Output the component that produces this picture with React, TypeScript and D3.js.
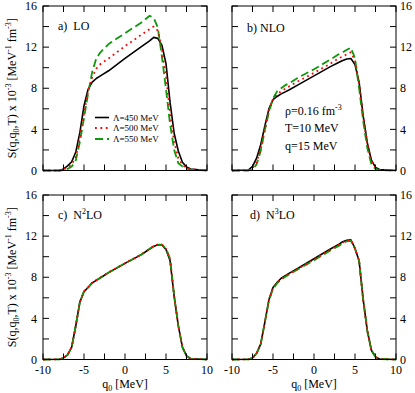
import React from "react";
import * as d3 from "d3";

// q0 grid [MeV]
const q0 = [-10, -8, -7.5, -7, -6.5, -6, -5.5, -5, -4.5, -4, -3.5, -3, -2, 0, 2, 3, 3.5, 4, 4.5, 5, 5.5, 6, 6.5, 7, 7.5, 8, 10];

// S(q,q0,T) x 10^-3 for each order and cutoff
const lo450 = [0, 0, 0.15, 0.45, 0.85, 1.8, 3.7, 6.3, 7.9, 8.6, 8.95, 9.2, 9.7, 10.9, 12.05, 12.6, 12.95, 12.85, 12.2, 10.4, 6.6, 3.6, 1.9, 0.8, 0.35, 0.15, 0];
const lo500 = [0, 0, 0.08, 0.3, 0.6, 1.3, 3.2, 5.6, 7.7, 9.1, 9.9, 10.35, 10.9, 12.1, 13.2, 13.75, 14.0, 13.6, 11.8, 9.2, 5.5, 2.8, 1.2, 0.55, 0.25, 0.1, 0];
const lo550 = [0, 0, 0.05, 0.15, 0.4, 1.0, 2.8, 5.1, 7.5, 9.6, 10.9, 11.5, 12.3, 13.35, 14.4, 15.05, 14.85, 13.9, 11.1, 7.9, 4.5, 2.0, 0.7, 0.4, 0.2, 0.08, 0];

const nlo450 = [0, 0.05, 0.4, 1.2, 2.5, 4.3, 6.0, 6.9, 7.2, 7.45, 7.65, 7.85, 8.3, 9.2, 10.1, 10.5, 10.7, 10.85, 10.9, 10.3, 8.6, 5.3, 2.7, 1.0, 0.3, 0.1, 0];
const nlo500 = [0, 0.02, 0.2, 0.8, 2.1, 4.0, 5.8, 6.95, 7.45, 7.7, 7.95, 8.2, 8.65, 9.5, 10.4, 10.9, 11.1, 11.3, 11.5, 10.7, 8.5, 5.2, 2.6, 0.9, 0.25, 0.05, 0];
const nlo550 = [0, 0, 0.1, 0.6, 1.9, 3.9, 5.7, 7.0, 7.7, 8.0, 8.3, 8.5, 9.0, 9.85, 10.8, 11.3, 11.5, 11.75, 11.95, 10.9, 8.0, 4.8, 2.2, 0.6, 0.15, 0.03, 0];

const n2lo450 = [0, 0.02, 0.15, 0.45, 1.2, 3.3, 5.6, 6.6, 7.0, 7.45, 7.7, 7.95, 8.45, 9.35, 10.2, 10.75, 11.0, 11.15, 11.15, 10.7, 9.6, 6.1, 3.3, 1.2, 0.35, 0.08, 0];
const n2lo500 = [0, 0.02, 0.15, 0.45, 1.2, 3.3, 5.6, 6.62, 7.02, 7.47, 7.72, 7.97, 8.47, 9.37, 10.22, 10.77, 11.02, 11.17, 11.17, 10.75, 9.7, 6.15, 3.3, 1.2, 0.35, 0.08, 0];
const n2lo550 = [0, 0.02, 0.15, 0.45, 1.2, 3.3, 5.6, 6.62, 7.02, 7.46, 7.71, 7.96, 8.46, 9.36, 10.21, 10.76, 11.02, 11.16, 11.16, 10.8, 9.8, 6.2, 3.3, 1.2, 0.35, 0.08, 0];

const n3lo450 = [0, 0.02, 0.15, 0.6, 1.5, 3.6, 5.8, 7.0, 7.5, 7.9, 8.15, 8.4, 8.85, 9.8, 10.75, 11.2, 11.45, 11.6, 11.65, 10.8, 9.6, 5.8, 2.8, 0.9, 0.25, 0.05, 0];
const n3lo500 = [0, 0.02, 0.15, 0.6, 1.5, 3.6, 5.75, 6.95, 7.45, 7.85, 8.1, 8.35, 8.8, 9.72, 10.68, 11.13, 11.38, 11.55, 11.6, 10.8, 9.6, 5.8, 2.8, 0.9, 0.25, 0.05, 0];
const n3lo550 = [0, 0.02, 0.15, 0.6, 1.5, 3.6, 5.7, 6.9, 7.4, 7.8, 8.05, 8.3, 8.75, 9.65, 10.6, 11.05, 11.3, 11.5, 11.55, 10.8, 9.6, 5.8, 2.8, 0.9, 0.25, 0.05, 0];

const xTicks = [-10, -7.5, -5, -2.5, 0, 2.5, 5, 7.5, 10];
const xLabels = [-10, -5, 0, 5, 10];
const yTicks = [0, 2, 4, 6, 8, 10, 12, 14, 16];
const yLabels = [0, 4, 8, 12, 16];
const legendNames = ["450", "500", "550"];

const FONT = "'Liberation Serif', 'Times New Roman', serif";

const styles = [
  { color: "#000000", dash: "none", width: 1.6 },
  { color: "#ff0000", dash: "1.8,3.6", width: 1.8 },
  { color: "#0a9a0a", dash: "8,4", width: 1.8 },
];

const panels = [
  { id: "a", label: "a)", order: "LO", sup: "", x0: 43, y0: 6, data: [lo450, lo500, lo550], left: true, bottom: false },
  { id: "b", label: "b)", order: "NLO", sup: "", x0: 232, y0: 6, data: [nlo450, nlo500, nlo550], left: false, bottom: false },
  { id: "c", label: "c)", order: "N", sup: "2", x0: 43, y0: 195, data: [n2lo450, n2lo500, n2lo550], left: true, bottom: true },
  { id: "d", label: "d)", order: "N", sup: "3", x0: 232, y0: 195, data: [n3lo450, n3lo500, n3lo550], left: false, bottom: true },
];

const W = 164;
const H = 164.5;
const TICK = 6;

function Panel({ p }: { p: (typeof panels)[number] }) {
  const x = d3.scaleLinear().domain([-10, 10]).range([p.x0, p.x0 + W]);
  const y = d3.scaleLinear().domain([0, 16]).range([p.y0 + H, p.y0]);
  const line = d3
    .line<number>()
    .x((_, i) => x(q0[i]))
    .y((d) => y(d));
  const drawOrder = [0, 2, 1];
  return (
    <g>
      {drawOrder.map((k) => (
        <path
          key={k}
          d={line(p.data[k]) || ""}
          fill="none"
          stroke={styles[k].color}
          strokeWidth={styles[k].width}
          strokeDasharray={styles[k].dash}
          strokeLinejoin="round"
        />
      ))}
      <rect x={p.x0} y={p.y0} width={W} height={H} fill="none" stroke="#000" strokeWidth={1} />
      {xTicks.map((t) => (
        <g key={"x" + t}>
          <line x1={x(t)} x2={x(t)} y1={p.y0 + H} y2={p.y0 + H - TICK} stroke="#000" />
          <line x1={x(t)} x2={x(t)} y1={p.y0} y2={p.y0 + TICK} stroke="#000" />
        </g>
      ))}
      {yTicks.map((t) => (
        <g key={"y" + t}>
          <line x1={p.x0} x2={p.x0 + TICK} y1={y(t)} y2={y(t)} stroke="#000" />
          <line x1={p.x0 + W} x2={p.x0 + W - TICK} y1={y(t)} y2={y(t)} stroke="#000" />
        </g>
      ))}
      {yLabels.map((t) => (
        <text
          key={"yl" + t}
          x={p.left ? p.x0 - 6 : p.x0 + W + 4}
          y={y(t)}
          dy="0.35em"
          textAnchor={p.left ? "end" : "start"}
          fontSize={12}
        >
          {t}
        </text>
      ))}
      {p.bottom &&
        xLabels.map((t) => (
          <text key={"xl" + t} x={x(t)} y={p.y0 + H + 14.5} textAnchor="middle" fontSize={12}>
            {t}
          </text>
        ))}
      {p.bottom && (
        <text x={x(0)} y={p.y0 + H + 28.5} textAnchor="middle" fontSize={12}>
          q<tspan fontSize={8} dy={3}>0</tspan>
          <tspan dy={-3}> [MeV]</tspan>
        </text>
      )}
      <text x={p.id === "b" ? p.x0 + 15 : p.id === "d" ? p.x0 + 18 : p.x0 + 15} y={p.id === "b" ? p.y0 + 26 : p.y0 + 24} fontSize={12}>
        {p.label}
        <tspan dx={p.id === "b" ? 3 : 6}>{p.order}</tspan>
        {p.sup && (
          <>
            <tspan fontSize={8} dy={-5}>{p.sup}</tspan>
            <tspan dy={5}>LO</tspan>
          </>
        )}
      </text>
      {p.left && (
        <text transform={`translate(16,${p.y0 + H / 2}) rotate(-90)`} textAnchor="middle" fontSize={12}>
          S(q,q<tspan fontSize={8} dy={3}>0</tspan>
          <tspan dy={-3}>,T) x 10</tspan>
          <tspan fontSize={8} dy={-5}>-3</tspan>
          <tspan dy={5}> [MeV</tspan>
          <tspan fontSize={8} dy={-5}>-1</tspan>
          <tspan dy={5}> fm</tspan>
          <tspan fontSize={8} dy={-5}>-3</tspan>
          <tspan dy={5}>]</tspan>
        </text>
      )}
    </g>
  );
}

export default function App() {
  const legendY = [117.5, 128, 139];
  return (
    <svg
      width={415}
      height={393}
      style={{ position: "absolute", left: 0, top: 0, background: "#fff" }}
      fontFamily={FONT}
    >
      {panels.map((p) => (
        <Panel key={p.id} p={p} />
      ))}
      {legendNames.map((n, i) => (
        <g key={n}>
          <line
            x1={95}
            x2={109}
            y1={legendY[i]}
            y2={legendY[i]}
            stroke={styles[i].color}
            strokeWidth={styles[i].width}
            strokeDasharray={styles[i].dash}
          />
          <text x={113} y={legendY[i]} dy="0.35em" fontSize={9}>
            Λ={n} MeV
          </text>
        </g>
      ))}
      <text x={285} y={115} fontSize={12}>
        ρ=0.16 fm<tspan fontSize={8} dy={-5}>-3</tspan>
      </text>
      <text x={285} y={132} fontSize={12}>
        T=10 MeV
      </text>
      <text x={285} y={150} fontSize={12}>
        q=15 MeV
      </text>
    </svg>
  );
}
